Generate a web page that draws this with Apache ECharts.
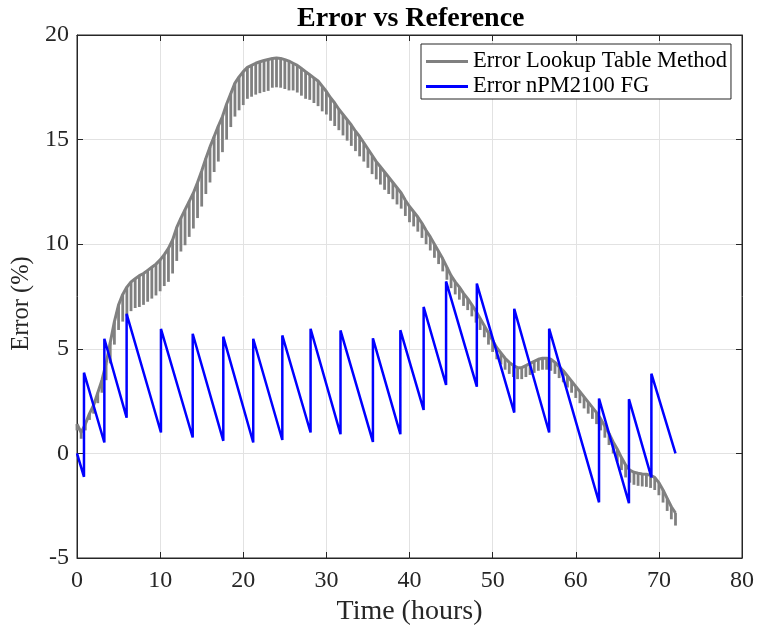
<!DOCTYPE html>
<html>
<head>
<meta charset="utf-8">
<title>Error vs Reference</title>
<script src="https://cdn.jsdelivr.net/npm/echarts@6/dist/echarts.min.js"></script>
<style>
    html, body { margin: 0; padding: 0; background: #fff; }
    #main { width: 765px; height: 631px; }
</style>
</head>
<body>
<div id="main"></div>
<script>
// lookup table error, sampled every 0.5 h from t = 0
var lutStart = 0;
var lutStep = 0.5;
var lutTop = [
    1.4, 1.0, 1.4, 1.9, 2.3, 2.9, 3.5, 4.3, 5.3, 6.3,
    7.1, 7.6, 7.95, 8.2, 8.35, 8.5, 8.6, 8.75, 8.9, 9.05,
    9.25, 9.5, 9.8, 10.2, 10.8, 11.25, 11.65, 12.05, 12.45, 12.95,
    13.5, 14.1, 14.65, 15.15, 15.65, 16.1, 16.7, 17.2, 17.7, 18.0,
    18.25, 18.45, 18.55, 18.65, 18.72, 18.78, 18.83, 18.88, 18.9, 18.88,
    18.82, 18.75, 18.65, 18.55, 18.4, 18.25, 18.1, 17.95, 17.8, 17.55,
    17.3, 17.0, 16.75, 16.45, 16.2, 15.95, 15.7, 15.4, 15.15, 14.85,
    14.55, 14.25, 13.95, 13.7, 13.45, 13.2, 12.95, 12.7, 12.45, 12.1,
    11.8, 11.55, 11.3, 11.0, 10.65, 10.35, 10.0, 9.65, 9.3, 8.9,
    8.5, 8.2, 7.95, 7.65, 7.4, 7.1, 6.8, 6.45, 6.1, 5.75,
    5.4, 5.05, 4.8, 4.55, 4.35, 4.2, 4.1, 4.1, 4.2, 4.3,
    4.4, 4.5, 4.55, 4.55, 4.5, 4.35, 4.15, 3.95, 3.7, 3.45,
    3.2, 2.95, 2.7, 2.45, 2.2, 1.95, 1.65, 1.3, 0.95, 0.55,
    0.2, -0.2, -0.55, -0.8, -0.9, -0.95, -0.98, -1.0, -1.05, -1.15,
    -1.4, -1.75, -2.15, -2.55, -2.85
];
// depth of the periodic drop below the curve at each sample
var lutDip = [
    0.3, 0.3, 0.3, 0.3, 0.4, 0.5, 0.6, 0.8, 1.0, 1.1,
    1.2, 1.3, 1.4, 1.4, 1.4, 1.5, 1.5, 1.5, 1.5, 1.5,
    1.5, 1.5, 1.6, 1.6, 1.6, 1.6, 1.7, 1.7, 1.7, 1.7,
    1.7, 1.7, 1.7, 1.7, 1.7, 1.7, 1.7, 1.6, 1.6, 1.6,
    1.6, 1.5, 1.5, 1.5, 1.5, 1.5, 1.5, 1.4, 1.4, 1.4,
    1.4, 1.4, 1.3, 1.3, 1.3, 1.3, 1.2, 1.2, 1.2, 1.2,
    1.1, 1.1, 1.1, 1.0, 1.0, 1.0, 1.0, 0.95, 0.95, 0.9,
    0.9, 0.9, 0.85, 0.85, 0.85, 0.8, 0.8, 0.8, 0.75, 0.75,
    0.75, 0.7, 0.7, 0.7, 0.65, 0.65, 0.65, 0.6, 0.6, 0.6,
    0.6, 0.6, 0.6, 0.6, 0.55, 0.55, 0.55, 0.55, 0.55, 0.55,
    0.55, 0.55, 0.55, 0.55, 0.55, 0.55, 0.55, 0.55, 0.55, 0.55,
    0.55, 0.55, 0.55, 0.55, 0.55, 0.55, 0.55, 0.55, 0.55, 0.55,
    0.55, 0.55, 0.55, 0.55, 0.55, 0.55, 0.55, 0.55, 0.55, 0.55,
    0.6, 0.6, 0.6, 0.6, 0.6, 0.6, 0.6, 0.6, 0.6, 0.6,
    0.6, 0.6, 0.6, 0.6, 0.6
];
// nPM2100 fuel gauge error (sawtooth corners)
var npmTime = [0, 0.84, 0.84, 3.29, 3.29, 5.97, 5.97, 10.1, 10.1, 13.92, 13.92, 17.6, 17.6,
    21.2, 21.2, 24.7, 24.7, 28.1, 28.1, 31.7, 31.7, 35.6, 35.6, 38.9, 38.9, 41.7, 41.7,
    44.4, 44.4, 48.1, 48.1, 52.6, 52.6, 56.8, 56.8, 62.8, 62.8, 66.4, 66.4, 69.1, 69.1, 72.0];
var npmErr = [0, -1.12, 3.86, 0.52, 5.48, 1.71, 6.67, 1.0, 5.95, 0.76, 5.72, 0.6, 5.58,
    0.52, 5.48, 0.64, 5.64, 1.0, 5.96, 0.92, 5.88, 0.55, 5.5, 0.92, 5.89, 2.08, 7.0,
    3.27, 8.22, 3.19, 8.12, 1.95, 6.91, 1.0, 5.96, -2.34, 2.62, -2.38, 2.59, -1.15, 3.81, 0.0];
var xTicks = [0, 80, 10];
var yTicks = [-5, 20, 5];
var seriesNames = ['Error Lookup Table Method', 'Error nPM2100 FG'];

var serif = "'Liberation Serif', 'Times New Roman', serif";
var axisColor = '#262626';
var gridColor = '#e2e2e2';

var lutLine = [], lutTeeth = [], npmLine = [];
for (var i = 0; i < lutTop.length; i++) {
    var t = lutStart + i * lutStep;
    lutLine.push([t, lutTop[i]]);
    lutTeeth.push([t, lutTop[i], lutTop[i] - lutDip[i]]);
}
for (var j = 0; j < npmTime.length; j++) {
    npmLine.push([npmTime[j], npmErr[j]]);
}

// box axes on top / right: ticks only
function mirrorAxis(pos, ticks) {
    return {
        type: 'value',
        position: pos,
        min: ticks[0],
        max: ticks[1],
        interval: ticks[2],
        axisLine: { show: true, onZero: false, lineStyle: { color: axisColor } },
        axisTick: { show: true, inside: true, length: 6, lineStyle: { color: axisColor } },
        axisLabel: { show: false },
        splitLine: { show: false }
    };
}

var myChart = echarts.init(document.getElementById('main'));
var option = {
    animation: false,
    backgroundColor: '#fff',
    title: {
        text: 'Error vs Reference',
        left: 292,
        top: 0,
        textStyle: { fontFamily: serif, fontSize: 28, fontWeight: 'bold', color: '#000' }
    },
    legend: {
        orient: 'vertical',
        left: 421,
        top: 44,
        padding: [5, 4, 0, 5],
        itemGap: 0,
        itemWidth: 42,
        itemHeight: 3,
        backgroundColor: '#fff',
        borderColor: axisColor,
        borderWidth: 1,
        borderRadius: 0,
        textStyle: { fontFamily: serif, fontSize: 22.5, color: '#000', lineHeight: 25 },
        data: [
            { name: seriesNames[0], icon: 'rect' },
            { name: seriesNames[1], icon: 'rect' }
        ]
    },
    grid: {
        left: 77,
        right: 23,
        top: 35,
        bottom: 72,
        show: true,
        borderColor: axisColor,
        borderWidth: 1
    },
    xAxis: [{
        type: 'value',
        min: xTicks[0],
        max: xTicks[1],
        interval: xTicks[2],
        name: 'Time (hours)',
        nameLocation: 'middle',
        nameGap: 40,
        nameTextStyle: { fontFamily: serif, fontSize: 28, color: axisColor },
        axisLine: { show: true, onZero: false, lineStyle: { color: axisColor } },
        axisTick: { show: true, inside: true, length: 6, lineStyle: { color: axisColor } },
        axisLabel: { margin: 11, fontFamily: serif, fontSize: 24, color: axisColor },
        splitLine: { show: true, lineStyle: { color: gridColor } }
    }, mirrorAxis('top', xTicks)],
    yAxis: [{
        type: 'value',
        min: yTicks[0],
        max: yTicks[1],
        interval: yTicks[2],
        name: 'Error (%)',
        nameLocation: 'middle',
        nameGap: 39,
        nameTextStyle: { fontFamily: serif, fontSize: 24.5, color: axisColor, padding: [0, 14, 0, 0] },
        axisLine: { show: true, onZero: false, lineStyle: { color: axisColor } },
        axisTick: { show: true, inside: true, length: 6, lineStyle: { color: axisColor } },
        axisLabel: { margin: 8, fontFamily: serif, fontSize: 24, color: axisColor },
        splitLine: { show: true, lineStyle: { color: gridColor } }
    }, mirrorAxis('right', yTicks)],
    series: [{
        name: seriesNames[0],
        type: 'line',
        data: lutLine,
        showSymbol: false,
        color: '#808080',
        lineStyle: { color: '#808080', width: 3 }
    }, {
        name: 'lutTeeth',
        type: 'custom',
        data: lutTeeth,
        encode: { x: 0, y: [1, 2] },
        renderItem: function (params, api) {
            var p1 = api.coord([api.value(0), api.value(1)]);
            var p2 = api.coord([api.value(0), api.value(2)]);
            return {
                type: 'line',
                shape: { x1: p1[0], y1: p1[1], x2: p2[0], y2: p2[1] },
                style: { stroke: '#808080', lineWidth: 2.8 }
            };
        }
    }, {
        name: seriesNames[1],
        type: 'line',
        data: npmLine,
        showSymbol: false,
        color: '#0000ff',
        lineStyle: { color: '#0000ff', width: 2.5 }
    }]
};
myChart.setOption(option, true);
window.onresize = myChart.resize;
</script>
</body>
</html>
